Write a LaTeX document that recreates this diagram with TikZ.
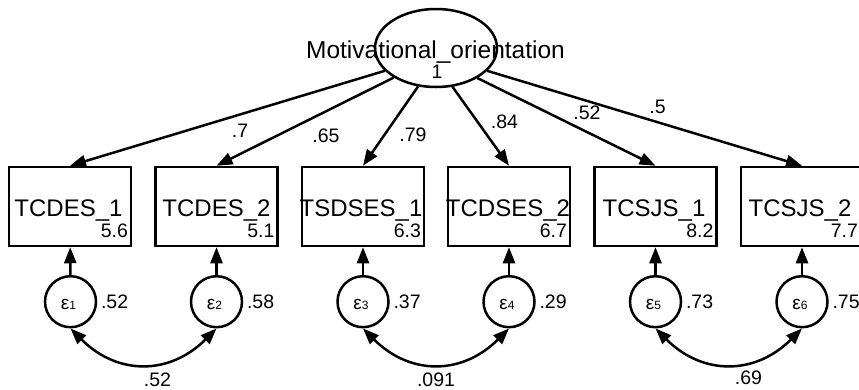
\documentclass[tikz,border=0pt]{standalone}
\usepackage{fontspec}
\setmainfont{Liberation Sans}
\usetikzlibrary{shapes.geometric,arrows.meta}
\newcommand{\epsub}[1]{{\fontsize{19}{19}\selectfont ε}{\fontsize{12}{12}\selectfont #1}}
\begin{document}
\begin{tikzpicture}[x=1pt,y=-1pt,
  line width=2.5pt,
  obs/.style={draw, rectangle, minimum width=122pt, minimum height=79pt, inner sep=0pt},
  err/.style={draw, circle, minimum size=51pt, inner sep=0pt},
  lat/.style={draw, ellipse, minimum width=122pt, minimum height=78pt, inner sep=0pt},
  nm/.style={font=\fontsize{24}{24}\selectfont, inner sep=0pt, anchor=base},
  num/.style={font=\fontsize{19.5}{19.5}\selectfont, inner sep=0pt, text height=14pt, text depth=0pt},
  etext/.style={inner sep=0pt, anchor=base},
  load/.style={-{Triangle[length=16pt,width=12pt]}},
  cov/.style={{Triangle[length=16pt,width=12pt]}-{Triangle[length=16pt,width=12pt]}},
]
\useasboundingbox (0,0) rectangle (859,389);
\clip (0,0) rectangle (859,389);

% latent variable
\node[lat] (lat) at (436,48) {};
\node[nm, font=\fontsize{24.5}{24.5}\selectfont] (latname) at (435.5,58) {Motivational\_orientation};
\node[num, anchor=south] (latvar) at (437,79.5) {1};

% observed variables
\node[obs] (b1) at (70,206.5) {};
\node[obs] (b2) at (216.5,206.5) {};
\node[obs] (b3) at (363,206.5) {};
\node[obs] (b4) at (509,206.5) {};
\node[obs] (b5) at (655.5,206.5) {};
\node[obs] (b6) at (802,206.5) {};

\node[nm] (n1) at (68.5,216) {TCDES\_1};
\node[nm] (n2) at (216.5,216) {TCDES\_2};
\node[nm] (n3) at (361,216) {TSDSES\_1};
\node[nm] (n4) at (508,216) {TCDSES\_2};
\node[nm] (n5) at (654,216) {TCSJS\_1};
\node[nm] (n6) at (800,216) {TCSJS\_2};

\node[num, anchor=south east] (m1) at ([xshift=-3pt,yshift=9pt]b1.south east) {5.6};
\node[num, anchor=south east] (m2) at ([xshift=-3pt,yshift=9pt]b2.south east) {5.1};
\node[num, anchor=south east] (m3) at ([xshift=-3pt,yshift=9pt]b3.south east) {6.3};
\node[num, anchor=south east] (m4) at ([xshift=-3pt,yshift=9pt]b4.south east) {6.7};
\node[num, anchor=south east] (m5) at ([xshift=-3pt,yshift=9pt]b5.south east) {8.2};
\node[num, anchor=south east] (m6) at ([xshift=-5pt,yshift=9pt]b6.south east) {7.7};

% error terms
\node[err] (e1) at (70.5,301.7) {};
\node[err] (e2) at (216.5,301.7) {};
\node[err] (e3) at (363,301.7) {};
\node[err] (e4) at (509,301.7) {};
\node[err] (e5) at (655.5,301.7) {};
\node[err] (e6) at (802,301.7) {};

\node[etext] (t1) at (68.5,309.5) {\epsub{1}};
\node[etext] (t2) at (214.5,309.5) {\epsub{2}};
\node[etext] (t3) at (361,309.5) {\epsub{3}};
\node[etext] (t4) at (507,309.5) {\epsub{4}};
\node[etext] (t5) at (653.5,309.5) {\epsub{5}};
\node[etext] (t6) at (800,309.5) {\epsub{6}};

\node[num, anchor=west] (v1) at ([xshift=2.5pt]e1.east) {.52};
\node[num, anchor=west] (v2) at ([xshift=2.5pt]e2.east) {.58};
\node[num, anchor=west] (v3) at ([xshift=2.5pt]e3.east) {.37};
\node[num, anchor=west] (v4) at ([xshift=2.5pt]e4.east) {.29};
\node[num, anchor=west] (v5) at ([xshift=2.5pt]e5.east) {.73};
\node[num, anchor=west] (v6) at ([xshift=2.5pt]e6.east) {.75};

% loadings
\draw[load] (lat.204) -- (b1.north);
\draw[load] (lat.215) -- (b2.north);
\draw[load] (lat.245) -- (b3.north);
\draw[load] (lat.293.5) -- (b4.north);
\draw[load] (lat.324) -- (b5.north);
\draw[load] (lat.336) -- (b6.north);

\node[num] (l1) at (240,130) {.7};
\node[num] (l2) at (326,135) {.65};
\node[num] (l3) at (413,134) {.79};
\node[num] (l4) at (504.5,121.5) {.84};
\node[num] (l5) at (587,112) {.52};
\node[num] (l6) at (657.5,106) {.5};

% error paths
\draw[load] (e1) -- (b1);
\draw[load] (e2) -- (b2);
\draw[load] (e3) -- (b3);
\draw[load] (e4) -- (b4);
\draw[load] (e5) -- (b5);
\draw[load] (e6) -- (b6);

% covariances
\draw[cov] (e1.south) .. controls +(47,47) and +(-47,47) .. (e2.south);
\draw[cov] (e3.south) .. controls +(47,47) and +(-47,47) .. (e4.south);
\draw[cov] (e5.south) .. controls +(47,47) and +(-47,47) .. (e6.south);

\node[num] (c1) at (157.5,379) {.52};
\node[num] (c2) at (436,379) {.091};
\node[num] (c3) at (748.5,377.5) {.69};
\end{tikzpicture}
\end{document}
